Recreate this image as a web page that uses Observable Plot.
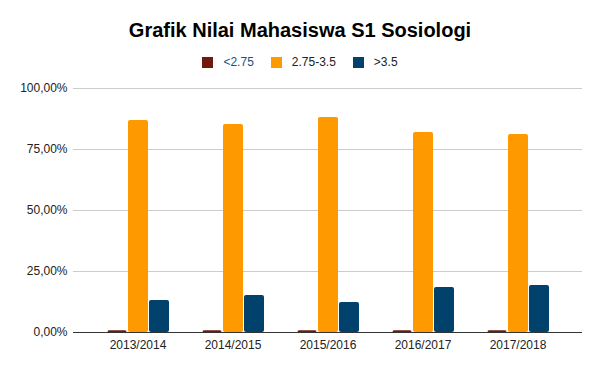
<!DOCTYPE html>
<html><head><meta charset="utf-8">
<script src="https://cdn.jsdelivr.net/npm/d3@7"></script>
<script src="https://cdn.jsdelivr.net/npm/@observablehq/plot@0.6"></script>
<style>
body{margin:0;background:#fff;font-family:"Liberation Sans",Arial,sans-serif;}
#wrap{position:relative;width:600px;height:371px;overflow:hidden;}
#head{position:relative;width:600px;height:75px;}
#title{position:absolute;left:0;top:20px;width:600px;text-align:center;font-weight:bold;font-size:20px;line-height:20px;color:#000;}
#legend{position:absolute;left:0;top:56px;width:600px;height:12px;display:flex;justify-content:center;align-items:center;font-size:12px;line-height:12px;color:#222;}
#legend .item{display:flex;align-items:center;margin:0 8.5px;}
#legend .sw{width:11px;height:11px;margin-right:10px;}
#chart svg{display:block;}
</style></head>
<body>
<div id="wrap">
  <div id="head">
    <div id="title"></div>
    <div id="legend"></div>
  </div>
  <div id="chart"></div>
</div>
<script>
const title = "Grafik Nilai Mahasiswa S1 Sosiologi";
const years = ["2013/2014", "2014/2015", "2015/2016", "2016/2017", "2017/2018"];
const series = ["<2.75", "2.75-3.5", ">3.5"];
const low  = [0.007, 0.007, 0.007, 0.007, 0.007];
const mid  = [0.869, 0.852, 0.881, 0.820, 0.811];
const high = [0.131, 0.152, 0.123, 0.184, 0.193];
const colors = ["#6e1a0d", "#ff9900", "#01426c"];
const yTicks = [0, 0.25, 0.5, 0.75, 1];

const values = [low, mid, high];
const rows = years.flatMap((year, i) => series.map((s, k) => ({year, series: s, value: values[k][i]})));

document.getElementById("title").textContent = title;
const legend = document.getElementById("legend");
series.forEach((s, k) => {
  const item = document.createElement("div");
  item.className = "item";
  const sw = document.createElement("div");
  sw.className = "sw";
  sw.style.background = colors[k];
  const t = document.createElement("span");
  t.textContent = s;
  if (k === 0) t.style.color = "#1d4f7c";
  item.appendChild(sw); item.appendChild(t);
  legend.appendChild(item);
});

const insets = [[17.5, 58.5], [38, 37], [59, 16]];
const fmt = d => d3.format(".2f")(d * 100).replace(".", ",") + "%";

const chart = Plot.plot({
  width: 600,
  height: 296,
  marginLeft: 73,
  marginRight: 18,
  marginTop: 13,
  marginBottom: 39,
  style: {fontFamily: "Liberation Sans, Arial, sans-serif", fontSize: "12px", color: "#222", background: "#fff"},
  x: {type: "band", domain: years, padding: 0, insetLeft: 17, insetRight: 17, label: null, tickSize: 0, tickPadding: 8},
  y: {domain: [0, 1], ticks: yTicks, tickFormat: fmt, label: null, tickSize: 0, tickPadding: 6},
  marks: [
    Plot.ruleY(yTicks.slice(1), {stroke: "#cccccc"}),
    ...series.map((s, k) => Plot.barY(rows.filter(d => d.series === s), {
      x: "year", y: "value", fill: colors[k], rx: 2,
      insetLeft: insets[k][0], insetRight: insets[k][1]
    })),
    Plot.ruleY([0], {stroke: "#333333"})
  ]
});
document.getElementById("chart").appendChild(chart);
</script>
</body></html>
